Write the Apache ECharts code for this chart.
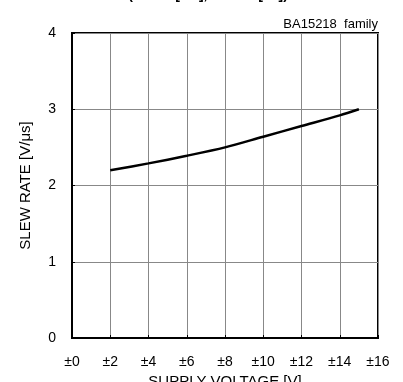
<!DOCTYPE html>
<html><head><meta charset="utf-8">
<script src="https://cdn.jsdelivr.net/npm/echarts@6/dist/echarts.min.js"></script>
<style>html,body{margin:0;padding:0;background:#fff}#c{width:403px;height:382px}</style>
</head><body><div id="c"></div>
<script>
const supplyVoltage = [2, 4, 6, 8, 10, 12, 14, 15];
const slewRate = [2.20, 2.29, 2.39, 2.50, 2.64, 2.78, 2.92, 3.00];
const xTicks = [0, 2, 4, 6, 8, 10, 12, 14, 16];
const yTicks = [0, 1, 2, 3, 4];
const titleText = '(RL = 2[kΩ], Ta = 25[°C])';
const familyText = 'BA15218  family';

const chart = echarts.init(document.getElementById('c'), null, {renderer: 'canvas'});
const font = 'Liberation Sans, Arial, sans-serif';
chart.setOption({
  animation: false,
  backgroundColor: '#fff',
  grid: {left: 72, right: 25, top: 33, bottom: 44, show: true, borderColor: '#000', borderWidth: 2,
         outerBoundsMode: 'none', containLabel: false},
  graphic: [
    {type: 'text', x: 208, y: 2, style: {text: titleText, font: 'bold 14px ' + font, fill: '#000', textAlign: 'center', textVerticalAlign: 'bottom'}},
    {type: 'text', x: 378, y: 31, style: {text: familyText, font: '13px ' + font, fill: '#000', textAlign: 'right', textVerticalAlign: 'bottom'}}
  ],
  xAxis: {
    type: 'value', min: xTicks[0], max: xTicks[xTicks.length - 1], interval: 2,
    name: 'SUPPLY VOLTAGE [V]', nameLocation: 'middle', nameGap: 33,
    nameTextStyle: {fontFamily: font, fontSize: 15, color: '#000', verticalAlign: 'top'},
    axisLine: {show: true, lineStyle: {color: '#000', width: 2}},
    axisTick: {show: true, inside: true, length: 3, lineStyle: {color: '#000'}},
    axisLabel: {fontFamily: font, fontSize: 14, color: '#000', margin: 17, formatter: v => '±' + v},
    splitLine: {show: true, lineStyle: {color: '#888', width: 1}}
  },
  yAxis: {
    type: 'value', min: yTicks[0], max: yTicks[yTicks.length - 1], interval: 1,
    name: 'SLEW RATE [V/μs]', nameLocation: 'middle', nameGap: 39,
    nameTextStyle: {fontFamily: font, fontSize: 15, color: '#000', verticalAlign: 'bottom'},
    axisLine: {show: true, lineStyle: {color: '#000', width: 2}},
    axisTick: {show: true, inside: true, length: 3, lineStyle: {color: '#000'}},
    axisLabel: {fontFamily: font, fontSize: 14, color: '#000', margin: 16},
    splitLine: {show: true, lineStyle: {color: '#888', width: 1}}
  },
  series: [{
    type: 'line', data: supplyVoltage.map((x, i) => [x, slewRate[i]]),
    smooth: 0.3, showSymbol: false, symbol: 'none',
    lineStyle: {color: '#000', width: 2.5}
  }]
});
</script></body></html>
